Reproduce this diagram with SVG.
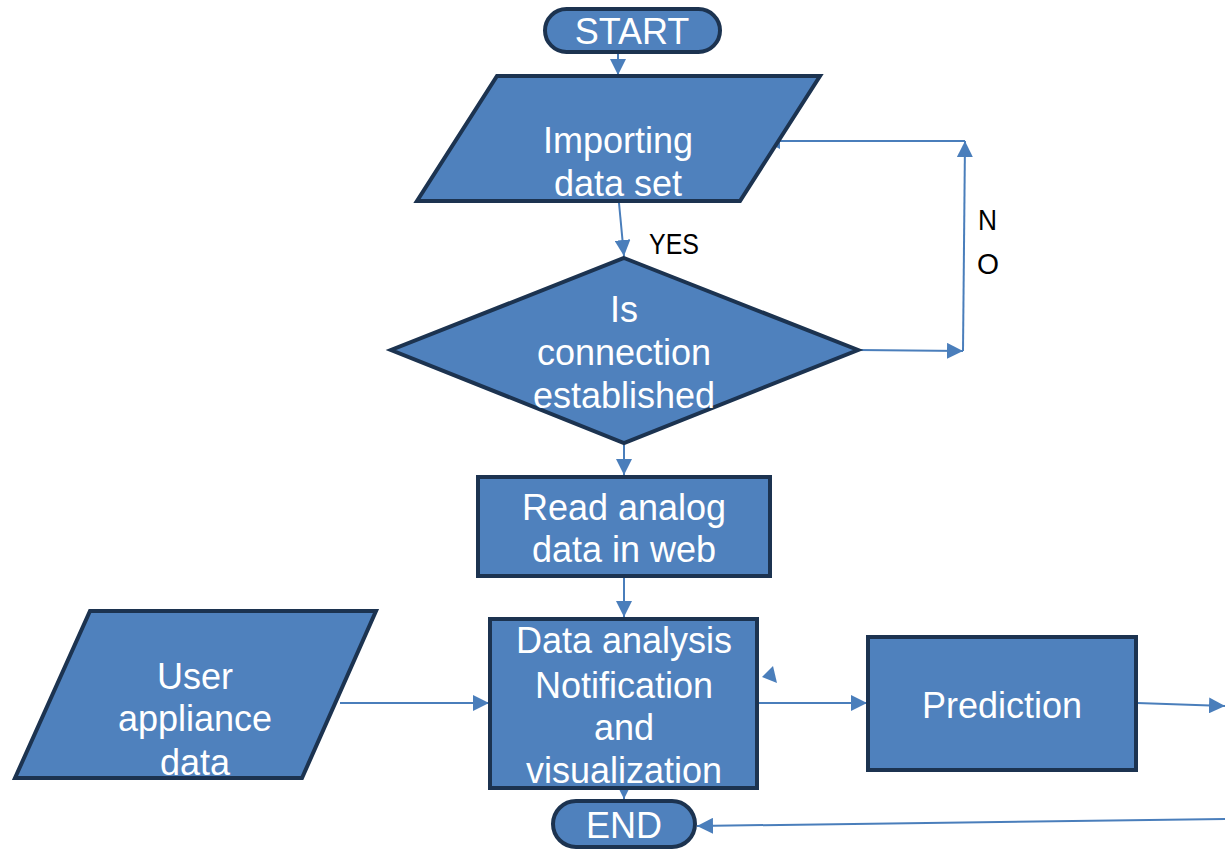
<svg xmlns="http://www.w3.org/2000/svg" width="1225" height="850" viewBox="0 0 1225 850">
<defs>
<style>
.node{fill:#4F81BD;stroke:#1C3350;stroke-width:4;stroke-linejoin:miter}
.t{font-family:"Liberation Sans",Arial,sans-serif;font-size:36px;fill:#ffffff;text-anchor:middle}
.lbl{font-family:"Liberation Sans",Arial,sans-serif;font-size:29px;fill:#000000}
.c{fill:none;stroke:#4A7EBB;stroke-width:2}
</style>
<marker id="ahb" viewBox="0 0 10 10" refX="10" refY="5" markerWidth="16" markerHeight="16" markerUnits="userSpaceOnUse" orient="auto">
<path d="M0,0 L10,5 L0,10 z" fill="#4A7EBB"/>
</marker>
</defs>
<rect width="1225" height="850" fill="#ffffff"/>

<g id="connectors">
<line class="c" x1="618" y1="54" x2="618" y2="75" marker-end="url(#ahb)"/>
<line class="c" x1="619" y1="203" x2="624" y2="256" marker-end="url(#ahb)"/>
<line class="c" x1="858" y1="350" x2="963" y2="351" marker-end="url(#ahb)"/>
<line class="c" x1="963" y1="351" x2="965" y2="141" marker-end="url(#ahb)"/>
<line class="c" x1="965" y1="141" x2="764" y2="141" marker-end="url(#ahb)"/>
<line class="c" x1="624" y1="445" x2="624" y2="475" marker-end="url(#ahb)"/>
<line class="c" x1="624" y1="578" x2="624" y2="617" marker-end="url(#ahb)"/>
<line class="c" x1="340" y1="703" x2="489" y2="703" marker-end="url(#ahb)"/>
<line class="c" x1="758" y1="703" x2="867" y2="703" marker-end="url(#ahb)"/>
<line class="c" x1="1137" y1="703" x2="1225" y2="706" marker-end="url(#ahb)"/>
<line class="c" x1="1225" y1="819" x2="697" y2="826" marker-end="url(#ahb)"/>
<line class="c" x1="624" y1="790" x2="624" y2="799" marker-end="url(#ahb)"/>
<polygon points="762,677 773,666 777,683" fill="#4A7EBB"/>
</g>

<g id="start">
<rect class="node" x="545" y="9" width="175" height="43" rx="21.5"/>
<text class="t" x="632" y="44">START</text>
</g>

<g id="import">
<polygon class="node" points="497,76 820,76 740,201 417,201"/>
<text class="t" x="618" y="153">Importing</text>
<text class="t" x="618" y="196">data set</text>
</g>

<g id="decision">
<polygon class="node" points="624,258 858,350 624,443 391,350"/>
<text class="t" x="624" y="322">Is</text>
<text class="t" x="624" y="365">connection</text>
<text class="t" x="624" y="408">established</text>
</g>

<g id="labels">
<text class="lbl" x="649" y="254" textLength="50" lengthAdjust="spacingAndGlyphs">YES</text>
<text class="lbl" x="978" y="230" textLength="19" lengthAdjust="spacingAndGlyphs">N</text>
<text class="lbl" x="977" y="274" textLength="22" lengthAdjust="spacingAndGlyphs">O</text>
</g>

<g id="read">
<rect class="node" x="478" y="477" width="292" height="99"/>
<text class="t" x="624" y="520">Read analog</text>
<text class="t" x="624" y="562">data in web</text>
</g>

<g id="analysis">
<rect class="node" x="490" y="619" width="267" height="169"/>
<text class="t" x="624" y="653">Data analysis</text>
<text class="t" x="624" y="698">Notification</text>
<text class="t" x="624" y="740">and</text>
<text class="t" x="624" y="783">visualization</text>
</g>

<g id="user">
<polygon class="node" points="90,611 376,611 302,778 15,778"/>
<text class="t" x="195" y="689">User</text>
<text class="t" x="195" y="731">appliance</text>
<text class="t" x="195" y="775">data</text>
</g>

<g id="prediction">
<rect class="node" x="868" y="637" width="268" height="133"/>
<text class="t" x="1002" y="718">Prediction</text>
</g>

<g id="end">
<rect class="node" x="553" y="801" width="142" height="46" rx="23"/>
<text class="t" x="624" y="838">END</text>
</g>
</svg>
